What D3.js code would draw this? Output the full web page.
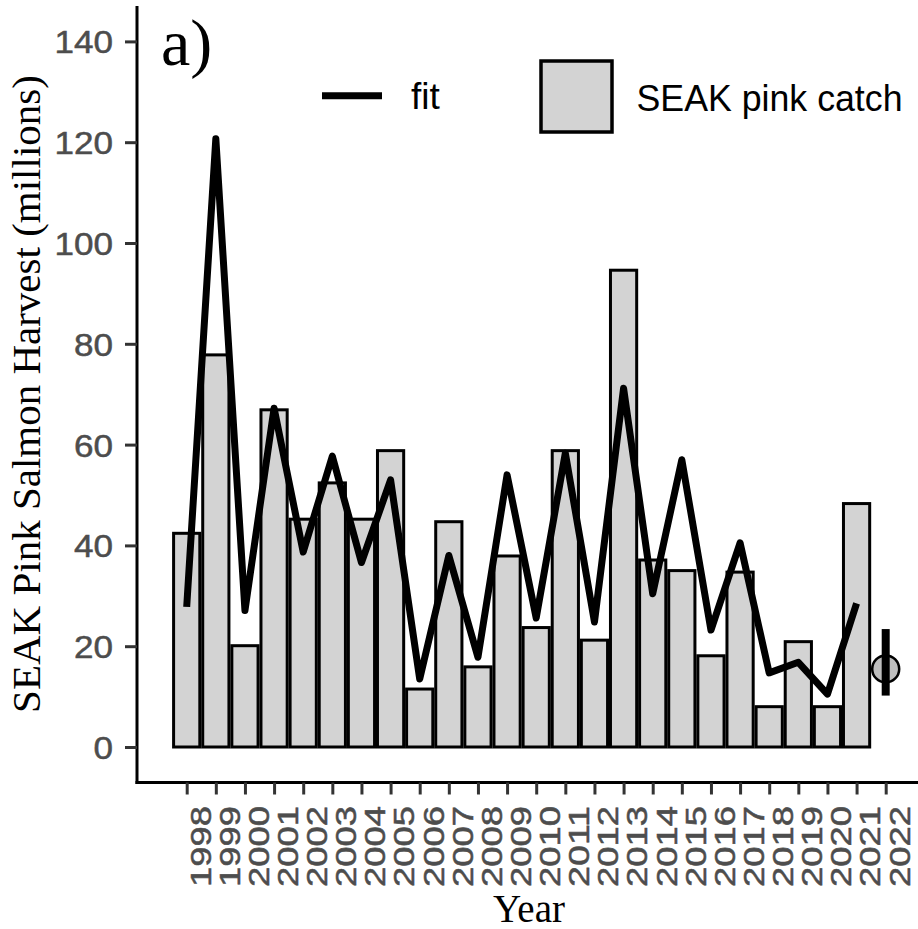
<!DOCTYPE html>
<html>
<head>
<meta charset="utf-8">
<script src="https://cdn.jsdelivr.net/npm/d3@7"></script>
<style>
  html, body { margin: 0; padding: 0; background: #ffffff; }
  svg { display: block; }
</style>
</head>
<body>
<svg id="chart" width="918" height="929"></svg>
<script>
// ---------------- data ----------------
const years = ["1998","1999","2000","2001","2002","2003","2004","2005","2006","2007","2008","2009",
               "2010","2011","2012","2013","2014","2015","2016","2017","2018","2019","2020","2021","2022"];
const catchYears = years.slice(0, 24);
const catchValues = [42.4, 77.8, 20.1, 66.9, 45.2, 52.4, 45.2, 58.8, 11.5, 44.7, 15.9, 37.9,
                     23.7, 58.8, 21.2, 94.6, 37.1, 35.0, 18.1, 34.7, 8.0, 20.9, 8.0, 48.3];
const fitValues = [27.8, 120.7, 27.1, 67.2, 38.7, 57.7, 36.6, 53.0, 13.5, 38.0, 17.8, 54.0,
                   25.6, 58.3, 24.8, 71.2, 30.4, 57.0, 23.2, 40.5, 14.7, 16.8, 10.5, 28.5];
const forecastYear = "2022";
const forecastValue = 15.5;
const forecastLow = 10.2;
const forecastHigh = 23.4;
const yTicks = [0, 20, 40, 60, 80, 100, 120, 140];
const legendLabels = ["fit", "SEAK pink catch"];
const yTitle = "SEAK Pink Salmon Harvest (millions)";
const xTitle = "Year";
const panelTag = "a)";

// ---------------- layout ----------------
const svg = d3.select("#chart");
const serif = "'Liberation Serif', 'Times New Roman', serif";
const sans = "'Liberation Sans', Arial, sans-serif";
const axisX = 137;      // y-axis line position
const axisY = 782.5;    // x-axis line position

const x = d3.scalePoint().domain(years).range([186.7, 885.7]);
const step = x.step();
const y = d3.scaleLinear().domain([0, 140]).range([747, 41.4]);

svg.append("rect").attr("width", 918).attr("height", 929).attr("fill", "#ffffff");

// bars
const catchData = catchYears.map((yr, i) => ({ yr, v: catchValues[i] }));
svg.append("g").selectAll("rect").data(catchData).join("rect")
  .attr("x", d => x(d.yr) - step * 0.45)
  .attr("width", step * 0.9)
  .attr("y", d => y(d.v))
  .attr("height", d => y(0) - y(d.v))
  .attr("fill", "#d3d3d3")
  .attr("stroke", "#000")
  .attr("stroke-width", 3);

// fit line
const fitData = catchYears.map((yr, i) => ({ yr, v: fitValues[i] }));
svg.append("path").datum(fitData)
  .attr("d", d3.line().x(d => x(d.yr)).y(d => y(d.v)))
  .attr("fill", "none")
  .attr("stroke", "#000")
  .attr("stroke-width", 7)
  .attr("stroke-linejoin", "round")
  .attr("stroke-linecap", "butt");

// forecast point + error bar
svg.append("circle")
  .attr("cx", x(forecastYear)).attr("cy", y(forecastValue)).attr("r", 13.5)
  .attr("fill", "#bebebe").attr("stroke", "#000").attr("stroke-width", 2.5);
svg.append("line")
  .attr("x1", x(forecastYear)).attr("x2", x(forecastYear))
  .attr("y1", y(forecastLow)).attr("y2", y(forecastHigh))
  .attr("stroke", "#000").attr("stroke-width", 8);

// axis lines
svg.append("line").attr("x1", axisX).attr("x2", axisX).attr("y1", 6).attr("y2", axisY + 1.5)
  .attr("stroke", "#000").attr("stroke-width", 3);
svg.append("line").attr("x1", axisX - 1.5).attr("x2", 920).attr("y1", axisY).attr("y2", axisY)
  .attr("stroke", "#000").attr("stroke-width", 3);

// y axis ticks
const gy = svg.append("g").attr("transform", `translate(${axisX},0)`)
  .call(d3.axisLeft(y).tickValues(yTicks).tickSize(12).tickPadding(12).tickSizeOuter(0));
gy.select(".domain").remove();
gy.selectAll(".tick line").attr("stroke", "#333").attr("stroke-width", 3);
gy.selectAll(".tick text")
  .attr("fill", "#4d4d4d")
  .attr("stroke", "#4d4d4d").attr("stroke-width", 0.5)
  .style("font-family", sans)
  .style("font-size", "32px")
  .attr("dy", "0.36em")
  .attr("textLength", d => String(d).length * 19.5)
  .attr("lengthAdjust", "spacingAndGlyphs");

// x axis ticks
const gx = svg.append("g").attr("transform", `translate(0,${axisY})`)
  .call(d3.axisBottom(x).tickSize(12).tickSizeOuter(0));
gx.select(".domain").remove();
gx.selectAll(".tick line").attr("stroke", "#333").attr("stroke-width", 3);
gx.selectAll(".tick text")
  .attr("fill", "#4d4d4d")
  .attr("stroke", "#4d4d4d").attr("stroke-width", 0.5)
  .style("font-family", sans)
  .style("font-size", "29px")
  .attr("text-anchor", "end")
  .attr("transform", "rotate(-90)")
  .attr("x", -23.5)
  .attr("y", 23.3)
  .attr("dy", 0)
  .attr("textLength", 81)
  .attr("lengthAdjust", "spacingAndGlyphs");

// titles
svg.append("text")
  .attr("transform", "translate(40,394) rotate(-90)")
  .attr("text-anchor", "middle")
  .style("font-family", serif).style("font-size", "41px")
  .attr("fill", "#000")
  .text(yTitle);
svg.append("text")
  .attr("x", 529).attr("y", 922)
  .attr("text-anchor", "middle")
  .style("font-family", serif).style("font-size", "39px")
  .attr("fill", "#000")
  .text(xTitle);
svg.append("text")
  .attr("x", 161).attr("y", 65)
  .style("font-family", serif).style("font-size", "66px")
  .attr("fill", "#000")
  .text(panelTag);

// legend
const lg = svg.append("g");
lg.append("line").attr("x1", 322).attr("x2", 382).attr("y1", 95.7).attr("y2", 95.7)
  .attr("stroke", "#000").attr("stroke-width", 7);
lg.append("text").attr("x", 411).attr("y", 109)
  .style("font-family", sans).style("font-size", "37px").attr("fill", "#000")
  .text(legendLabels[0]);
lg.append("rect").attr("x", 541).attr("y", 61).attr("width", 71).attr("height", 71)
  .attr("fill", "#d3d3d3").attr("stroke", "#000").attr("stroke-width", 3.5);
lg.append("text").attr("x", 636.5).attr("y", 110.7)
  .style("font-family", sans).style("font-size", "37px").attr("fill", "#000")
  .attr("textLength", 266).attr("lengthAdjust", "spacingAndGlyphs")
  .text(legendLabels[1]);
</script>
</body>
</html>
